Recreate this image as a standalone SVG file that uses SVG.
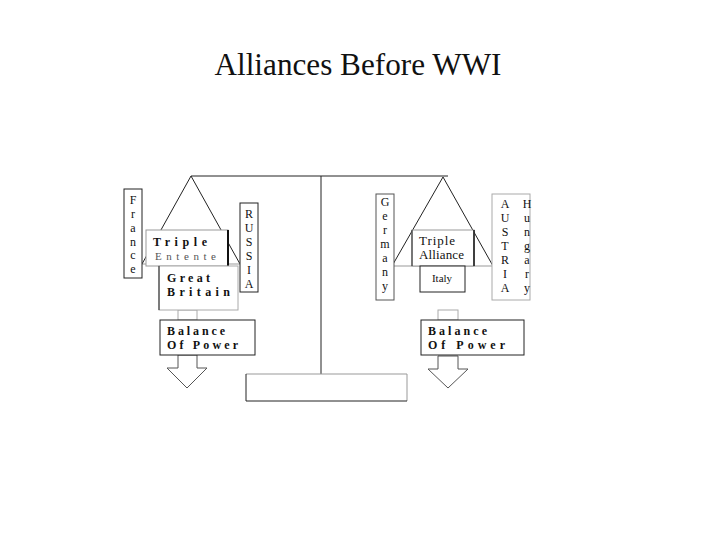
<svg xmlns="http://www.w3.org/2000/svg" width="720" height="540" viewBox="0 0 720 540">
<style>
  .t { font-family: "Liberation Serif", "Times New Roman", serif; fill: #111; }
  .s11 { font-size: 11px; }
  .s12 { font-size: 12px; }
  .s13 { font-size: 13px; }
  .b { font-weight: bold; }
  .dark { fill: #fff; stroke: #222; stroke-width: 1; }
  .light { fill: #fff; stroke: #aaa; stroke-width: 1; }
  .ln { fill: none; stroke: #222; stroke-width: 1; }
  .lnl { fill: none; stroke: #999; stroke-width: 1; }
  .arrow { fill: #fff; stroke: #555; stroke-width: 1; }
</style>
<rect width="720" height="540" fill="#fff"/>
<text class="t" x="358" y="75" font-size="31" text-anchor="middle" textLength="287" lengthAdjust="spacingAndGlyphs">Alliances Before WWI</text>

<g id="connectors">
  <line class="ln" x1="191" y1="176" x2="448" y2="176" stroke-width="1.5"/>
  <line class="ln" x1="321" y1="176" x2="321" y2="374"/>
  <polyline class="ln" points="142,264 191,176 240,264"/>
  <line class="lnl" x1="142" y1="264" x2="240" y2="264"/>
  <polyline class="ln" points="392,266 443,177 493,266"/>
  <line class="lnl" x1="392" y1="266" x2="493" y2="266"/>
  <rect class="light" x="178" y="310" width="19" height="10" stroke="#888"/>
  <rect class="light" x="438" y="310" width="20" height="10" stroke="#888"/>
  <polygon class="arrow" points="178,355 178,368 167,368 187,388 207,368 197,368 197,355"/>
  <polygon class="arrow" points="438,356 438,369 428,369 448,388 468,369 458,369 458,356"/>
</g>

<g id="base">
  <rect x="246" y="374" width="161" height="27" fill="#fff" stroke="none"/>
  <polyline class="lnl" points="246,374 407,374 407,401"/>
  <polyline class="ln" points="246,374 246,401 407,401"/>
</g>

<g id="france">
  <rect class="dark" x="124" y="189" width="18" height="89"/>
  <g class="t s12" text-anchor="middle">
    <text x="133" y="204">F</text><text x="133" y="218">r</text><text x="133" y="232">a</text>
    <text x="133" y="246">n</text><text x="133" y="259">c</text><text x="133" y="273">e</text>
  </g>
</g>

<g id="russia">
  <rect class="dark" x="240" y="203" width="18" height="89"/>
  <g class="t s12" text-anchor="middle">
    <text x="249" y="218">R</text><text x="249" y="232">U</text><text x="249" y="246">S</text>
    <text x="249" y="260">S</text><text x="249" y="274">I</text><text x="249" y="288">A</text>
  </g>
</g>

<g id="triple-entente">
  <rect x="146" y="230" width="82" height="36" fill="#fff" stroke="#999"/>
  <line x1="228" y1="230" x2="228" y2="266" stroke="#111" stroke-width="2"/>
  <text class="t s12 b" x="153" y="246" textLength="54" lengthAdjust="spacing">Triple</text>
  <text class="t s11" x="155" y="260" textLength="61" lengthAdjust="spacing" style="fill:#555">Entente</text>
</g>

<g id="great-britain">
  <rect class="light" x="159" y="266" width="79" height="44"/>
  <line x1="159" y1="266" x2="159" y2="310" stroke="#222"/>
  <text class="t s12 b" x="167" y="282" textLength="43" lengthAdjust="spacing">Great</text>
  <text class="t s12 b" x="167" y="296" textLength="63" lengthAdjust="spacing">Britain</text>
</g>

<g id="balance-left">
  <rect class="dark" x="160" y="320" width="95" height="35" stroke="#333"/>
  <text class="t s12 b" x="167" y="335" textLength="58" lengthAdjust="spacing">Balance</text>
  <text class="t s12 b" x="167" y="349" textLength="71" lengthAdjust="spacing">Of Power</text>
</g>

<g id="germany">
  <rect x="376" y="194" width="18" height="106" fill="#fff" stroke="#555"/>
  <g class="t s12" text-anchor="middle">
    <text x="385" y="206">G</text><text x="385" y="220">e</text><text x="385" y="234">r</text>
    <text x="385" y="248">m</text><text x="385" y="262">a</text><text x="385" y="276">n</text>
    <text x="385" y="290">y</text>
  </g>
</g>

<g id="austria-hungary">
  <rect class="light" x="492" y="194" width="38" height="106"/>
  <g class="t s12" text-anchor="middle">
    <text x="505" y="208">A</text><text x="505" y="222">U</text><text x="505" y="236">S</text>
    <text x="505" y="250">T</text><text x="505" y="264">R</text><text x="505" y="278">I</text>
    <text x="505" y="292">A</text>
    <text x="527" y="208">H</text><text x="527" y="222">u</text><text x="527" y="236">n</text>
    <text x="527" y="250">g</text><text x="527" y="264">a</text><text x="527" y="278">r</text>
    <text x="527" y="292">y</text>
  </g>
</g>

<g id="triple-alliance">
  <rect x="412" y="230" width="62" height="36" fill="#fff" stroke="#999"/>
  <line x1="412" y1="230" x2="412" y2="266" stroke="#222"/>
  <line x1="474" y1="230" x2="474" y2="266" stroke="#111" stroke-width="1.5"/>
  <text class="t s13" x="419" y="245" textLength="36" lengthAdjust="spacing">Triple</text>
  <text class="t s13" x="419" y="259" textLength="45" lengthAdjust="spacing">Alliance</text>
</g>

<g id="italy">
  <rect class="dark" x="420" y="266" width="45" height="26" stroke="#333"/>
  <text class="t s11" x="442" y="282" text-anchor="middle">Italy</text>
</g>

<g id="balance-right">
  <rect class="dark" x="421" y="320" width="103" height="35" stroke="#333"/>
  <text class="t s12 b" x="428" y="335" textLength="59" lengthAdjust="spacing">Balance</text>
  <text class="t s12 b" x="428" y="349" textLength="77" lengthAdjust="spacing">Of Power</text>
</g>
</svg>
